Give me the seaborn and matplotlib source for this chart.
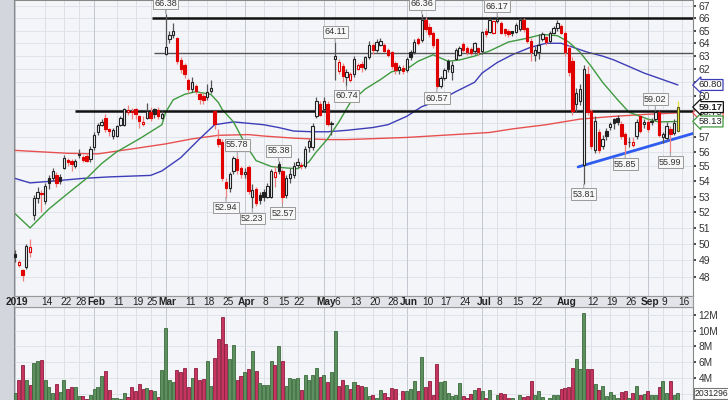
import numpy as np
import matplotlib
matplotlib.use("Agg")
import matplotlib.pyplot as plt
import seaborn as sns
from matplotlib.patches import Rectangle
from matplotlib.ticker import FixedLocator, NullLocator

# ---------------- data ----------------
opens = [49.4, 48.7, 48.45, 48.6, 49.5, 51.8, 52.9, 53.25, 52.7, 54.2,
         54.2, 54.4, 54.3, 54.9, 55.45, 55.4, 55.05, 55.8, 55.65, 55.7,
         55.5, 56.3, 57.4, 57.9, 58.4, 57.6, 57.1, 57.1, 57.9, 57.9,
         58.8, 58.8, 59.0, 58.5, 57.95, 58.4, 58.8, 59.0, 58.95, 58.4,
         63.2, 64.3, 64.65, 64.4, 62.7, 62.3, 61.2, 60.5, 60.7, 60.1,
         60.0, 59.9, 60.35, 58.85, 56.9, 56.7, 53.95, 53.55, 54.7, 55.5,
         54.9, 54.5, 54.95, 53.0, 53.5, 53.1, 53.3, 53.0, 53.0, 54.3,
         55.2, 54.7, 53.1, 54.2, 54.4, 55.1, 55.1, 55.0, 56.3, 56.3,
         58.5, 59.4, 59.05, 59.4, 57.95, 62.8, 61.85, 62.2, 61.4, 61.2,
         61.6, 62.0, 62.4, 62.1, 62.95, 63.85, 63.45, 63.9, 63.85, 63.45,
         63.3, 62.5, 61.95, 62.1, 61.9, 63.35, 63.3, 64.3, 64.25, 65.85,
         65.3, 64.8, 64.3, 60.7, 61.35, 62.6, 61.8, 62.8, 63.1, 63.95,
         63.6, 63.55, 63.4, 63.6, 63.4, 64.95, 64.9, 64.8, 65.75, 65.6,
         65.1, 64.95, 64.95, 64.9, 65.1, 65.9, 65.2, 64.2, 63.1, 63.35,
         64.35, 64.5, 64.2, 64.8, 65.2, 65.35, 64.85, 63.6, 62.6, 59.4,
         59.6, 55.1, 61.6, 58.9, 56.1, 57.4, 56.4, 57.45, 57.75, 58.3,
         58.4, 57.95, 57.25, 56.65, 56.5, 57.1, 58.5, 57.95, 58.1, 58.1,
         58.3, 58.8, 57.05, 56.95, 57.6, 57.3, 57.45]
highs = [49.6, 49.0, 48.5, 50.0, 50.3, 53.1, 53.6, 53.4, 53.9, 54.4,
         54.9, 54.6, 54.5, 55.8, 55.6, 55.5, 55.5, 56.2, 55.8, 55.9,
         56.4, 57.4, 58.0, 58.3, 58.7, 57.7, 57.7, 57.9, 58.5, 59.1,
         59.3, 59.1, 59.1, 58.6, 58.5, 59.5, 59.2, 59.1, 59.2, 58.9,
         66.38, 65.0, 65.6, 64.5, 62.9, 62.5, 61.3, 61.4, 60.9, 60.3,
         60.2, 60.9, 61.2, 58.9, 57.6, 56.9, 54.2, 54.6, 55.7, 55.78,
         55.0, 54.9, 55.1, 53.8, 53.6, 53.3, 53.5, 53.9, 54.8, 55.0,
         55.38, 54.8, 54.4, 54.9, 55.3, 55.6, 55.3, 56.4, 56.9, 58.0,
         59.9, 59.6, 59.9, 59.6, 58.2, 64.11, 62.8, 62.5, 62.0, 61.8,
         63.0, 62.5, 62.6, 63.0, 64.2, 64.0, 64.3, 64.4, 64.0, 63.6,
         63.4, 62.6, 62.3, 62.3, 62.9, 63.5, 64.3, 64.5, 66.36, 66.1,
         65.6, 65.0, 64.4, 61.5, 62.1, 62.8, 62.6, 63.6, 63.8, 64.1,
         63.8, 63.7, 64.1, 63.7, 65.0, 65.2, 66.0, 65.9, 66.17, 65.8,
         65.2, 65.1, 65.0, 65.6, 66.0, 66.0, 65.3, 64.4, 63.8, 64.7,
         64.9, 64.6, 65.0, 65.4, 65.9, 65.5, 65.0, 63.9, 62.9, 60.6,
         60.9, 62.3, 62.2, 59.0, 58.5, 57.6, 57.2, 57.7, 58.1, 58.4,
         58.6, 58.2, 57.4, 57.0, 57.0, 58.3, 58.7, 58.3, 58.3, 58.4,
         59.02, 58.9, 57.4, 58.1, 57.8, 58.3, 59.6]
lows = [48.9, 48.6, 47.8, 48.5, 49.2, 51.5, 52.6, 52.0, 52.5, 53.5,
        54.0, 53.6, 53.8, 54.8, 55.0, 54.7, 54.9, 55.6, 55.3, 55.3,
        55.3, 56.1, 57.2, 57.8, 57.4, 57.1, 56.9, 57.0, 57.8, 57.8,
        58.6, 58.3, 58.3, 57.7, 57.8, 58.3, 58.2, 58.4, 58.3, 58.3,
        63.1, 64.0, 64.4, 62.4, 61.7, 61.3, 60.2, 60.3, 60.1, 59.4,
        59.4, 59.7, 60.2, 57.6, 56.3, 54.0, 52.94, 53.3, 54.5, 54.5,
        54.2, 54.2, 53.2, 52.23, 52.4, 52.5, 52.7, 52.9, 52.9, 53.6,
        54.5, 52.57, 52.9, 53.9, 54.2, 54.9, 54.8, 54.9, 56.0, 56.1,
        58.4, 58.5, 58.9, 57.8, 57.2, 61.2, 61.6, 61.0, 60.74, 61.0,
        61.4, 61.9, 61.8, 61.9, 62.8, 63.2, 63.3, 63.8, 63.3, 62.9,
        62.0, 61.6, 61.6, 61.6, 61.8, 62.7, 63.2, 63.9, 64.1, 64.9,
        64.5, 63.6, 60.57, 60.6, 61.2, 61.8, 61.2, 62.7, 63.0, 63.3,
        63.1, 63.1, 63.2, 63.1, 63.2, 64.5, 64.8, 64.7, 65.6, 64.7,
        64.6, 64.5, 64.6, 64.8, 65.0, 64.9, 64.0, 62.6, 62.6, 62.8,
        64.2, 63.9, 64.0, 64.7, 65.0, 64.7, 63.0, 61.5, 58.6, 58.8,
        59.3, 53.81, 58.6, 56.2, 55.9, 55.9, 56.2, 56.8, 57.5, 57.6,
        57.9, 56.9, 55.85, 56.3, 56.3, 56.9, 57.3, 57.7, 57.4, 57.9,
        58.2, 57.0, 56.6, 56.8, 55.99, 57.2, 57.4]
closes = [49.2, 48.9, 48.1, 49.9, 49.8, 52.9, 53.3, 53.15, 53.7, 53.9,
          54.7, 53.9, 54.0, 55.6, 55.3, 55.2, 55.4, 55.85, 55.45, 55.4,
          56.2, 57.2, 57.9, 58.1, 57.6, 57.45, 57.5, 57.8, 58.4, 59.0,
          58.95, 58.85, 58.65, 58.15, 58.1, 58.85, 58.4, 58.65, 58.5, 58.65,
          63.7, 64.65, 64.95, 62.6, 62.0, 61.6, 60.5, 61.05, 60.35, 59.75,
          59.7, 60.25, 60.6, 57.95, 56.55, 54.2, 53.55, 54.5, 55.6, 54.75,
          54.5, 54.6, 53.35, 53.4, 52.6, 52.8, 52.95, 53.7, 54.7, 54.6,
          54.7, 53.0, 54.2, 54.5, 55.0, 55.3, 55.0, 56.2, 56.75, 57.8,
          59.6, 58.6, 59.6, 57.95, 58.05, 63.0, 62.55, 61.5, 61.8, 61.65,
          62.8, 62.3, 62.15, 62.95, 63.9, 63.45, 64.1, 64.15, 63.4, 63.1,
          62.2, 61.9, 62.15, 61.85, 62.8, 62.9, 64.1, 64.05, 65.9, 65.1,
          64.7, 63.9, 60.7, 61.3, 61.95, 62.0, 62.35, 63.5, 63.65, 63.5,
          63.3, 63.25, 64.0, 63.35, 64.9, 64.7, 65.85, 65.8, 65.95, 64.85,
          64.8, 64.7, 64.8, 65.45, 65.85, 65.1, 64.2, 63.3, 63.5, 63.9,
          64.7, 64.1, 64.8, 65.2, 65.6, 64.85, 63.35, 61.8, 58.9, 60.2,
          60.5, 62.0, 58.8, 56.4, 58.2, 56.1, 56.9, 57.1, 57.95, 58.0,
          58.1, 57.1, 56.55, 56.7, 56.65, 58.1, 57.45, 58.1, 57.6, 58.15,
          58.8, 57.2, 57.25, 57.8, 57.25, 58.0, 59.17]
volume_m = [2.1, 3.7, 5.6, 3.8, 3.1, 5.9, 6.2, 6.3, 3.8, 2.9,
            2.1, 3.2, 2.2, 3.8, 2.6, 2.8, 2.8, 1.7, 1.7, 1.3,
            1.8, 2.6, 2.8, 4.3, 4.9, 2.5, 1.5, 1.4, 1.3, 2.1,
            1.6, 2.8, 2.4, 3.2, 2.6, 2.7, 2.5, 2.3, 1.6, 5.0,
            10.4, 3.7, 3.5, 5.0, 4.7, 5.3, 2.8, 4.0, 5.3, 3.8,
            3.9, 6.2, 3.0, 6.5, 9.0, 11.7, 8.3, 6.4, 8.2, 3.7,
            4.3, 4.8, 5.2, 7.4, 4.9, 3.3, 3.1, 3.1, 6.2, 5.6,
            8.0, 6.1, 3.0, 4.0, 3.9, 4.0, 2.5, 4.4, 3.7, 4.4,
            5.3, 4.1, 4.4, 3.5, 4.7, 9.9, 3.0, 3.7, 3.1, 2.6,
            3.5, 3.1, 3.0, 2.8, 1.7, 1.8, 1.5, 2.5, 2.1, 1.6,
            2.7, 2.6, 1.2, 2.3, 2.3, 2.6, 3.6, 2.3, 6.6, 2.8,
            3.6, 1.8, 5.8, 3.5, 3.6, 2.1, 1.7, 1.9, 3.3, 1.7,
            1.5, 2.0, 2.5, 2.7, 2.3, 1.5, 2.5, 0.8, 1.8, 2.1,
            2.0, 1.5, 1.4, 1.1, 1.9, 1.6, 1.7, 3.6, 1.9, 2.3,
            1.6, 1.1, 1.5, 1.9, 1.8, 2.6, 2.7, 2.8, 5.3, 6.4,
            5.2, 12.3, 5.1, 5.1, 3.2, 2.5, 3.0, 1.7, 2.2, 1.9,
            1.5, 2.2, 2.3, 1.5, 2.1, 3.0, 1.9, 2.0, 2.3, 1.9,
            1.9, 2.8, 3.6, 2.1, 3.6, 1.9, 2.031296]

# moving averages
ma20_idx = [0, 4, 9, 14, 19, 23, 27, 33, 39, 40, 42, 45, 48, 52, 54, 55, 58, 61, 64, 68,
            72, 75, 78, 80, 83, 86, 89, 93, 97, 100, 104, 107, 111, 115, 118, 122, 126,
            131, 136, 140, 144, 147, 150, 153, 156, 160, 163, 168, 171, 176]
ma20_val = [51.9, 51.0, 52.2, 53.2, 54.2, 55.2, 56.0, 56.9, 57.9, 58.8, 59.7, 60.1, 60.3,
            60.1, 59.5, 59.0, 58.1, 56.6, 55.4, 55.0, 54.9, 54.85, 55.3, 56.0, 56.9, 58.1,
            59.5, 60.5, 61.2, 61.8, 62.0, 62.6, 63.1, 62.6, 62.7, 63.0, 63.4, 64.1, 64.4,
            64.7, 64.6, 64.1, 63.3, 62.2, 61.0, 59.7, 58.8, 58.3, 58.1, 58.13]
ma50_idx = [0, 4, 9, 18, 25, 36, 39, 44, 49, 53, 58, 62, 66, 70, 74, 79, 83, 88, 95, 99,
            104, 108, 113, 117, 122, 124, 128, 132, 137, 141, 145, 148, 152, 156, 159,
            163, 167, 172, 176]
ma50_val = [54.2, 53.9, 54.0, 54.2, 54.3, 54.4, 54.7, 55.6, 56.9, 57.9, 58.1, 58.0, 57.9,
            57.7, 57.45, 57.4, 57.4, 57.5, 57.7, 57.9, 58.5, 59.2, 59.7, 60.3, 61.0, 61.7,
            62.5, 63.1, 63.7, 64.0, 64.0, 63.7, 63.3, 63.0, 62.7, 62.2, 61.7, 61.2, 60.8]
ma200_idx = [0, 7, 14, 22, 31, 40, 47, 54, 62, 66, 74, 83, 88, 104, 126, 132, 141, 150,
             159, 168, 176]
ma200_val = [56.1, 56.0, 55.9, 55.86, 56.2, 56.55, 56.9, 57.15, 57.2, 57.1, 56.95, 56.85,
             56.85, 57.0, 57.35, 57.6, 57.9, 58.3, 58.5, 58.65, 58.75]

# support / resistance lines: (level, start index, thick)
level_vals = [66.0, 63.24, 58.85]
level_start = [36.4, 36.9, 15.9]
level_thick = [True, False, True]
trend_idx = [149.5, 180.0]
trend_val = [54.97, 57.28]

# high / low call-outs
ann_idx = [40, 56, 59, 63, 70, 71, 85, 88, 108, 112, 128, 151, 162, 170, 174]
ann_kind = ['H', 'L', 'H', 'L', 'H', 'L', 'H', 'L', 'H', 'L', 'H', 'L', 'L', 'H', 'L']

tick_idx = [0, 8, 13, 17, 21, 27, 32, 36, 40, 46, 51, 56, 61, 66, 71, 75, 82, 85, 90, 95,
            100, 104, 109, 114, 119, 124, 128, 133, 138, 146, 153, 158, 163, 168, 172, 177]
tick_lbl = ['2019', '14', '22', '28', 'Feb', '11', '19', '25', 'Mar', '11', '18', '25',
            'Apr', '8', '15', '22', 'May', '6', '13', '20', '28', 'Jun', '10', '17', '24',
            'Jul', '8', '15', '22', 'Aug', '12', '19', '26', 'Sep', '9', '16']
price_ticks = list(range(48, 68))
hidden_price_ticks = [58, 59, 61]   # covered by the value tags in the reference
vol_ticks_m = [4, 6, 8, 10, 12]

# ---------------- styling ----------------
sns.set_theme(style="white")
plt.rcParams['font.family'] = ['Liberation Sans', 'DejaVu Sans']

W, H = 728, 400
BG = '#f4f5f9'
GRID = '#dde0e7'


def box(x0, y0, x1, y1):
    return [x0 / W, 1 - y1 / H, (x1 - x0) / W, (y1 - y0) / H]


fig = plt.figure(figsize=(W / 100, H / 100), dpi=100, facecolor='white')
fig.patches.append(Rectangle((0, 0), 13.5 / W, 1, transform=fig.transFigure,
                             facecolor='#d3d6dd', edgecolor='none', zorder=-5))

ax = fig.add_axes(box(13.5, 0, 693, 296))
axd = fig.add_axes(box(13.5, 296, 693, 307))
axv = fig.add_axes(box(13.5, 307, 693, 409.5))
axd.set_zorder(5)

XL = (-0.4, 180.0)
idx = np.arange(len(closes))
O = np.array(opens); Hh = np.array(highs); L = np.array(lows); C = np.array(closes)
V = np.array(volume_m) * 1e6
prevC = np.r_[C[0], C[:-1]]
up = C >= prevC
hollow = C >= O

# ---- price panel ----
ax.set_facecolor(BG)
ax.set_yscale('log')
ax.set_ylim(46.9, 67.5)
ax.set_xlim(*XL)
for v in price_ticks:
    ax.axhline(v, color=GRID, lw=0.6, zorder=0)
month_lbls = {'2019', 'Feb', 'Mar', 'Apr', 'May', 'Jun', 'Jul', 'Aug', 'Sep'}
for t, lb in zip(tick_idx, tick_lbl):
    col = '#c3c7cf' if lb in month_lbls else GRID
    for a in (ax, axv):
        a.axvline(t, color=col, lw=0.7, zorder=0)

sns.lineplot(x=ma200_idx, y=ma200_val, ax=ax, color='#e8504f', lw=1.0, zorder=2)
sns.lineplot(x=ma50_idx, y=ma50_val, ax=ax, color='#3d3db8', lw=1.0, zorder=2)
sns.lineplot(x=ma20_idx, y=ma20_val, ax=ax, color='#3f9a3f', lw=1.0, zorder=2)

for lv, st, th in zip(level_vals, level_start, level_thick):
    ax.hlines(lv, st, XL[1], color='#111111' if th else '#555555',
              lw=1.8 if th else 1.0, zorder=2.5)
sns.lineplot(x=trend_idx, y=trend_val, ax=ax, color='#2f5cf0', lw=2.0, zorder=2.6)

edge = np.where(up, '#222222', '#e00000')
wick = np.where(up, '#555555', '#f08080')
face = np.where(hollow, BG, edge).astype(object)
edge = edge.astype(object); wick = wick.astype(object)
face[-1] = '#f6ee3c'; edge[-1] = '#5a5a20'; wick[-1] = '#e8dc30'
ax.vlines(idx, L, Hh, colors=list(wick), lw=0.9, zorder=3)
ax.bar(idx, np.maximum(np.abs(C - O), 0.04), bottom=np.minimum(O, C), width=0.62,
       color=list(face), edgecolor=list(edge), linewidth=0.8, zorder=4)

for i, k in zip(ann_idx, ann_kind):
    val = highs[i] if k == 'H' else lows[i]
    off = 4 if k == 'H' else -4
    ax.annotate(f'{val:.2f}', xy=(i, val), xytext=(0, off), textcoords='offset points',
                ha='center', va='bottom' if k == 'H' else 'top', fontsize=6.5,
                color='#333333', zorder=8,
                bbox=dict(boxstyle='square,pad=0.15', fc='#f7f7f7', ec='#9a9a9a', lw=0.7),
                arrowprops=dict(arrowstyle='-', color='#9a9a9a', lw=0.7,
                                shrinkA=0, shrinkB=0))

ax.yaxis.tick_right()
ax.yaxis.set_major_locator(FixedLocator(price_ticks))
ax.yaxis.set_minor_locator(NullLocator())
ax.set_yticklabels(['' if v in hidden_price_ticks else str(v) for v in price_ticks])
ax.tick_params(axis='y', labelsize=7.5, pad=2, length=2, colors='#333333', right=True)
ax.tick_params(axis='x', bottom=False, labelbottom=False)
ax.set_xlabel(''); ax.set_ylabel('')
for s in ax.spines.values():
    s.set_color('#888888'); s.set_linewidth(0.8)

# current-value tags on the right
tags = [(60.80, '60.80', '#3d3db8', 'normal'),
        (58.75, '58.75', '#e8504f', 'normal'),
        (58.13, '58.13', '#3f9a3f', 'normal'),
        (closes[-1], f'{closes[-1]:.2f}', '#111111', 'bold')]
for yv, txt, ec, fw in tags:
    ax.text(1.008, yv, txt, transform=ax.get_yaxis_transform(), ha='left', va='center',
            fontsize=6.8, color='#222222', fontweight=fw, clip_on=False, zorder=10,
            bbox=dict(boxstyle='larrow,pad=0.1', fc='white', ec=ec, lw=0.9))

# ---- date strip ----
axd.set_facecolor('#e2e4ea')
axd.set_xlim(*XL); axd.set_ylim(0, 1)
axd.set_xticks([]); axd.set_yticks([])
for t, lb in zip(tick_idx, tick_lbl):
    axd.text(t + 0.5, 0.45, lb, ha='center', va='center', fontsize=7.3, color='#222222',
             fontweight='bold' if lb in month_lbls else 'normal', clip_on=False)
for s in axd.spines.values():
    s.set_color('#999999'); s.set_linewidth(0.8)

# ---- volume panel ----
axv.set_facecolor(BG)
axv.set_xlim(*XL)
axv.set_ylim(0, 13.0e6)
for v in range(2, 13, 2):
    axv.axhline(v * 1e6, color=GRID, lw=0.6, zorder=0)
vface = np.where(up, '#5e8f5e', '#c6355f')
vedge = np.where(up, '#3b6a3b', '#8c1d3e')
axv.bar(idx, V, width=0.8, color=list(vface), edgecolor=list(vedge), linewidth=0.6, zorder=3)
axv.yaxis.tick_right()
axv.yaxis.set_major_locator(FixedLocator([m * 1e6 for m in vol_ticks_m]))
axv.yaxis.set_minor_locator(NullLocator())
axv.set_yticklabels([f'{m}M' for m in vol_ticks_m])
axv.tick_params(axis='y', labelsize=7.3, pad=2, length=2, colors='#333333', right=True)
axv.tick_params(axis='x', bottom=False, labelbottom=False)
axv.set_xlabel(''); axv.set_ylabel('')
for s in axv.spines.values():
    s.set_color('#888888'); s.set_linewidth(0.8)
axv.text(1.003, V[-1], f'{V[-1]:.0f}', transform=axv.get_yaxis_transform(), ha='left',
         va='center', fontsize=6.2, color='#222222', clip_on=False, zorder=10,
         bbox=dict(boxstyle='square,pad=0.12', fc='white', ec='#777777', lw=0.8))

fig.savefig('out.png', dpi=100, facecolor='white')
